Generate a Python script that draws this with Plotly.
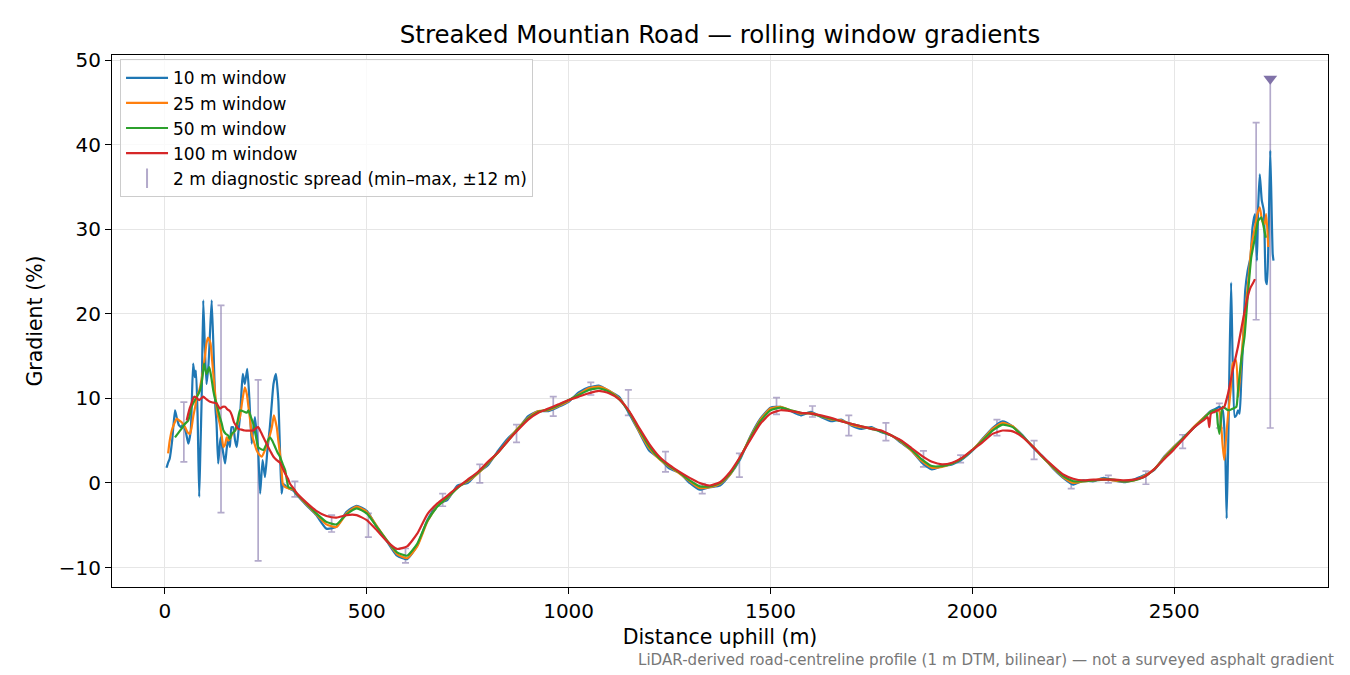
import plotly.graph_objects as go

# ---- data ----
# noisy start (0-320 m), per window
w10_start_x = [4, 8, 12, 18, 25, 29, 35, 41, 45, 52, 58, 64, 70, 74, 77, 81, 85, 88, 91, 95, 99, 103, 108, 112, 116,
               121, 125, 128, 132, 135, 138, 143, 149, 153, 157, 161, 165, 169, 174, 178, 182, 186, 190, 193, 198, 204,
               209, 215, 219, 223, 227, 231, 236, 242, 248, 254, 260, 265, 269, 275, 281, 285, 289, 293, 298, 302, 310, 318]
w10_start_y = [1.8, 2.4, 2.9, 5.0, 8.6, 7.8, 6.8, 6.6, 7.0, 6.0, 4.65, 6.2, 14.1, 12.5, 13.3, 8.0, -1.65, 4.0, 9.8, 21.6,
               16.0, 11.7, 14.0, 18.0, 21.6, 14.9, 9.0, 7.0, 2.3, 4.0, 5.4, 4.0, 2.3, 4.0, 5.4, 4.25, 6.6, 6.6, 5.0, 4.25,
               6.0, 7.8, 11.0, 12.9, 11.7, 13.5, 10.2, 4.65, 6.5, 7.8, 6.0, 3.9, -1.25, 2.7, 0.7, 3.9, 6.6, 9.5, 11.7,
               12.9, 9.8, 4.0, -1.25, -0.1, -0.3, -0.5, -0.7, -0.9]

w25_start_x = [8, 12, 17, 23, 29, 35, 41, 50, 56, 62, 66, 70, 75, 79, 85, 89, 93, 99, 103, 107, 113, 117, 120, 126, 131,
               136, 141, 145, 149, 153, 157, 161, 167, 174, 180, 186, 192, 198, 203, 207, 211, 215, 221, 227, 233, 240,
               248, 256, 262, 265, 270, 277, 281, 285, 289, 292, 298, 310, 320]
w25_start_y = [3.5, 5.0, 6.2, 7.0, 7.6, 7.4, 7.2, 6.6, 6.0, 5.8, 6.5, 7.8, 9.0, 10.2, 10.9, 11.8, 12.9, 14.9, 16.5, 17.2,
               16.5, 14.5, 12.9, 9.8, 8.0, 7.0, 5.5, 4.25, 4.5, 5.4, 5.0, 5.2, 5.8, 6.2, 7.0, 7.8, 9.8, 11.3, 10.5, 9.0,
               7.5, 5.8, 4.8, 3.9, 3.4, 3.1, 3.9, 5.0, 6.0, 6.6, 8.0, 6.6, 5.0, 3.5, 1.5, -0.1, -0.5, -0.7, -0.8]

w50_start_x = [25, 33, 41, 50, 58, 66, 72, 79, 84, 89, 93, 97, 100, 103, 107, 110, 115, 120, 124, 128, 132, 136, 141,
               145, 151, 157, 161, 165, 170, 174, 180, 186, 192, 198, 203, 207, 213, 219, 225, 231, 238, 244, 252, 256,
               260, 266, 273, 279, 285, 292, 298, 302, 306, 312, 318]
w50_start_y = [5.4, 5.9, 6.4, 7.0, 7.4, 9.0, 9.6, 10.2, 10.6, 11.3, 12.5, 14.1, 13.5, 12.9, 13.3, 13.7, 12.5, 10.9, 10.0,
               9.4, 8.6, 7.8, 7.0, 6.2, 5.8, 5.6, 5.2, 5.8, 6.0, 6.2, 7.3, 8.6, 8.5, 8.4, 8.3, 8.6, 7.8, 7.0, 5.6, 4.25,
               4.0, 3.9, 4.65, 5.1, 5.4, 5.0, 4.25, 3.6, 3.1, 2.2, 1.5, 0.4, -0.5, -0.6, -0.7]

w100_start_x = [54, 58, 62, 66, 70, 74, 80, 85, 90, 95, 103, 112, 120, 128, 136, 143, 149, 155, 161, 166, 171, 176, 182,
                190, 198, 208, 219, 226, 231, 238, 244, 250, 256, 262, 269, 277, 285, 292, 298, 305, 310, 318]
w100_start_y = [7.4, 8.2, 8.9, 9.4, 10.0, 10.2, 10.0, 9.8, 10.0, 10.2, 9.9, 9.6, 9.5, 9.4, 8.8, 9.0, 9.0, 8.7, 8.5, 8.0,
                7.2, 6.8, 6.4, 6.3, 6.2, 6.2, 6.2, 6.5, 6.6, 6.0, 5.4, 4.8, 4.25, 3.7, 3.1, 2.7, 2.4, 1.7, 1.1, 0.5, -0.1, -0.6]

# smooth middle section, sampled every 25 m from 325 m to 2575 m
mid_x = list(range(325, 2576, 25))
w10_mid = [-1.3, -2.6, -3.8, -5.4, -5.2, -3.4, -2.7, -3.3, -5.2, -6.9,
           -8.6, -9.0, -7.4, -4.4, -2.5, -2.0, -0.3, 0.0, 1.2, 2.1,
           3.8, 5.3, 6.4, 7.9, 8.5, 8.5, 9.0, 9.6, 10.7, 11.3,
           11.5, 10.9, 10.2, 8.2, 6.0, 3.8, 2.9, 1.7, 1.2, 0.0,
           -0.8, -0.5, -0.3, 1.0, 2.8, 5.5, 7.6, 8.9, 9.0, 8.5,
           8.0, 8.4, 7.8, 7.3, 7.5, 6.8, 6.4, 6.6, 6.0, 5.6,
           4.7, 3.8, 2.4, 1.6, 2.0, 2.2, 2.8, 3.8, 5.2, 6.5,
           7.3, 6.7, 5.6, 4.2, 3.1, 1.7, 0.6, -0.2, 0.3, 0.2,
           0.6, 0.3, 0.1, 0.4, 0.9, 1.5, 3.1, 4.3, 5.5, 6.6,
           7.8]
w25_mid = [-1.2, -2.5, -3.7, -4.9, -5.2, -3.6, -2.8, -3.4, -5.1, -6.8,
           -8.4, -8.9, -7.5, -4.6, -2.7, -1.8, -0.5, 0.2, 1.1, 2.3,
           3.6, 5.1, 6.5, 7.7, 8.5, 8.6, 9.1, 9.7, 10.5, 11.2,
           11.4, 10.9, 10.0, 8.4, 6.1, 4.1, 2.8, 1.9, 1.1, 0.2,
           -0.6, -0.5, -0.1, 1.0, 3.0, 5.4, 7.5, 8.8, 9.0, 8.6,
           8.2, 8.3, 7.9, 7.5, 7.4, 6.9, 6.6, 6.5, 6.1, 5.6,
           4.8, 3.8, 2.6, 1.8, 1.9, 2.3, 2.9, 3.9, 5.1, 6.4,
           7.1, 6.7, 5.5, 4.3, 3.0, 1.8, 0.7, 0.0, 0.2, 0.3,
           0.5, 0.3, 0.2, 0.3, 0.8, 1.6, 3.0, 4.3, 5.4, 6.7,
           7.8]
w50_mid = [-1.2, -2.4, -3.6, -4.6, -4.9, -3.7, -3.0, -3.6, -5.2, -6.8,
           -8.2, -8.6, -7.2, -4.5, -2.8, -1.7, -0.6, 0.3, 1.2, 2.4,
           3.6, 5.0, 6.4, 7.6, 8.4, 8.7, 9.2, 9.8, 10.4, 11.0,
           11.2, 10.8, 9.9, 8.4, 6.3, 4.3, 2.9, 2.0, 1.2, 0.3,
           -0.4, -0.4, 0.0, 1.1, 3.0, 5.3, 7.3, 8.6, 8.9, 8.6,
           8.3, 8.2, 7.9, 7.6, 7.3, 7.0, 6.7, 6.4, 6.1, 5.6,
           4.9, 3.9, 2.8, 2.0, 2.0, 2.3, 2.9, 3.9, 5.0, 6.2,
           6.9, 6.6, 5.5, 4.3, 3.0, 1.9, 0.8, 0.2, 0.2, 0.3,
           0.4, 0.4, 0.2, 0.3, 0.7, 1.6, 2.9, 4.2, 5.4, 6.6,
           7.7]
w100_mid = [-1.1, -2.3, -3.3, -3.9, -4.1, -3.8, -3.8, -4.4, -5.6, -6.9,
            -7.8, -7.5, -6.0, -3.7, -2.4, -1.5, -0.5, 0.4, 1.3, 2.5,
            3.6, 5.0, 6.3, 7.5, 8.3, 8.8, 9.3, 9.8, 10.2, 10.6,
            10.9, 10.6, 9.9, 8.5, 6.5, 4.6, 3.1, 2.1, 1.3, 0.6,
            0.0, -0.3, 0.1, 1.3, 3.1, 5.1, 7.0, 8.2, 8.6, 8.5,
            8.3, 8.2, 8.0, 7.7, 7.3, 7.0, 6.7, 6.4, 6.2, 5.6,
            5.0, 4.1, 3.2, 2.5, 2.2, 2.4, 3.0, 3.9, 4.8, 5.8,
            6.2, 6.1, 5.4, 4.3, 3.1, 2.0, 1.0, 0.5, 0.3, 0.4,
            0.4, 0.4, 0.3, 0.4, 0.7, 1.6, 2.8, 4.0, 5.3, 6.6,
            7.5]

# steep final ramp (after 2575 m)
w10_end_x = [2590, 2604, 2612, 2620, 2626, 2630, 2634, 2637, 2641, 2645, 2650, 2654, 2658, 2662, 2666, 2670, 2676,
             2682, 2689, 2694, 2700, 2705, 2708, 2712, 2717, 2722, 2727, 2730, 2734, 2738, 2744, 2746]
w10_end_y = [8.5, 8.8, 9.0, 8.6, 4.65, -4.2, 5.0, 14.1, 23.7, 14.1, 7.8, 8.0, 8.6, 8.2, 12.0, 16.1, 22.8, 25.1, 26.7,
             30.2, 31.8, 26.3, 32.6, 36.5, 33.4, 32.2, 23.9, 23.5, 30.0, 39.3, 27.1, 26.3]
w25_end_x = [2590, 2604, 2612, 2616, 2620, 2624, 2628, 2633, 2640, 2645, 2653, 2659, 2666, 2672, 2678, 2686, 2691,
             2700, 2706, 2712, 2718, 2724, 2728, 2733]
w25_end_y = [8.4, 8.6, 8.5, 7.0, 4.5, 2.7, 5.0, 7.8, 11.0, 14.1, 14.5, 10.2, 14.5, 18.0, 21.2, 25.1, 27.9, 30.2, 31.8,
             32.6, 31.0, 30.6, 31.8, 27.9]
w50_end_x = [2590, 2604, 2608, 2612, 2616, 2620, 2630, 2637, 2646, 2654, 2658, 2666, 2674, 2682, 2691, 2700, 2708,
             2716, 2722, 2727]
w50_end_y = [8.4, 8.6, 7.0, 5.8, 7.5, 9.0, 8.7, 8.6, 8.8, 9.0, 10.9, 14.5, 17.2, 22.0, 26.7, 29.0, 31.0, 31.4, 30.2, 29.0]
w100_end_x = [2583, 2587, 2591, 2600, 2608, 2616, 2624, 2633, 2645, 2658, 2670, 2682, 2689, 2695, 2700]
w100_end_y = [7.8, 6.6, 8.2, 8.4, 8.6, 8.8, 9.0, 10.5, 13.3, 16.1, 19.2, 22.0, 23.1, 23.6, 24.1]

# 2 m diagnostic spread (min-max within +-12 m)
spread_x = [47, 139, 231, 322, 413, 504, 596, 688, 780, 871, 962, 1055, 1148, 1240, 1331, 1423, 1515, 1604, 1694,
            1786, 1879, 1971, 2061, 2153, 2245, 2337, 2430, 2521, 2612, 2703, 2738]
spread_hi = [9.56, 21.0, 12.2, 0.2, -3.8, -3.6, -7.75, -1.25, 2.2, 6.9, 10.2, 11.9, 11.0, 3.7, -0.1, 3.5, 10.1, 9.1,
             8.0, 7.1, 3.8, 3.3, 7.5, 5.0, 0.4, 0.9, 1.4, 5.7, 9.4, 42.6, 47.8]
spread_lo = [2.5, -3.5, -9.2, -1.65, -5.8, -6.4, -9.45, -2.75, 0.0, 4.8, 7.9, 10.4, 8.0, 1.3, -1.25, 0.7, 8.1, 7.8,
             5.6, 5.0, 1.9, 2.4, 5.6, 2.8, -0.66, 0.0, -0.15, 4.1, 6.5, 19.3, 6.5]

# off-scale maximum marker
clip_x = [2738]
clip_y = [47.8]

series = [
    ("10 m window", "#1f77b4", w10_start_x, w10_start_y, w10_mid, w10_end_x, w10_end_y),
    ("25 m window", "#ff7f0e", w25_start_x, w25_start_y, w25_mid, w25_end_x, w25_end_y),
    ("50 m window", "#2ca02c", w50_start_x, w50_start_y, w50_mid, w50_end_x, w50_end_y),
    ("100 m window", "#d62728", w100_start_x, w100_start_y, w100_mid, w100_end_x, w100_end_y),
]

FONT = "DejaVu Sans"
SPREAD_COLOR = "rgba(128,114,168,0.6)"

# the page body adds an 8 px offset, so the figure is 8 px smaller each way
W, H = 1342, 667

fig = go.Figure()

# spread bars underneath the lines
fig.add_trace(go.Scatter(
    x=spread_x, y=spread_lo, mode="markers",
    marker=dict(size=1, color="rgba(0,0,0,0)"),
    error_y=dict(type="data", symmetric=False,
                 array=[h - l for h, l in zip(spread_hi, spread_lo)],
                 arrayminus=[0] * len(spread_lo),
                 color=SPREAD_COLOR, thickness=1.7, width=3.5),
    showlegend=False, hoverinfo="skip",
))

for i, (name, color, sx, sy, my, ex, ey) in enumerate(series):
    fig.add_trace(go.Scatter(
        x=sx + mid_x + ex, y=sy + my + ey, mode="lines", name=name,
        line=dict(color=color, width=2.2, shape="spline", smoothing=0.5),
        legendgroup=f"g{i}",
    ))

# legend entry for the spread bars
fig.add_trace(go.Scatter(
    x=[None], y=[None], mode="markers", name="2 m diagnostic spread (min–max, ±12 m)",
    marker=dict(symbol="line-ns-open", size=14, color=SPREAD_COLOR, line=dict(width=2, color=SPREAD_COLOR)),
    legendgroup="g4",
))

fig.add_trace(go.Scatter(
    x=clip_x, y=clip_y, mode="markers",
    marker=dict(symbol="triangle-down", size=12, color="rgb(128,114,168)"),
    showlegend=False, hoverinfo="skip",
))

axis_common = dict(
    showline=True, linecolor="black", linewidth=1.2, mirror=True,
    ticks="outside", ticklen=6, tickwidth=1.2, tickcolor="black",
    showgrid=True, gridcolor="#e6e6e6", gridwidth=1, zeroline=False,
    tickfont=dict(family=FONT, size=20, color="black"),
)

fig.update_layout(
    width=W, height=H,
    margin=dict(l=104, r=22, t=47, b=88),
    paper_bgcolor="white", plot_bgcolor="white",
    font=dict(family=FONT, color="black"),
    title=dict(text="Streaked Mountian Road — rolling window gradients",
               x=0.5, xref="paper", y=1 - 26 / H, yanchor="middle",
               font=dict(family=FONT, size=24.5, color="black")),
    legend=dict(x=0.0066, y=0.992, xanchor="left", yanchor="top",
                bgcolor="rgba(255,255,255,0.8)", bordercolor="#cccccc", borderwidth=1,
                font=dict(family=FONT, size=17), tracegroupgap=0, traceorder="grouped",
                itemwidth=42),
    xaxis=dict(range=[-131, 2881], tickvals=[0, 500, 1000, 1500, 2000, 2500],
               title=dict(text="Distance uphill (m)", standoff=7, font=dict(family=FONT, size=20.5)),
               **axis_common),
    yaxis=dict(range=[-12.3, 50.6], tickvals=[-10, 0, 10, 20, 30, 40, 50],
               title=dict(text="Gradient (%)", standoff=10, font=dict(family=FONT, size=20.5)),
               **axis_common),
    annotations=[dict(
        text="LiDAR-derived road-centreline profile (1 m DTM, bilinear) — not a surveyed asphalt gradient",
        xref="paper", yref="paper", x=1.0066, y=-0.137, xanchor="right", yanchor="middle",
        showarrow=False, font=dict(family=FONT, size=15.1, color="#777777"),
    )],
)

fig.write_html("out.html")
